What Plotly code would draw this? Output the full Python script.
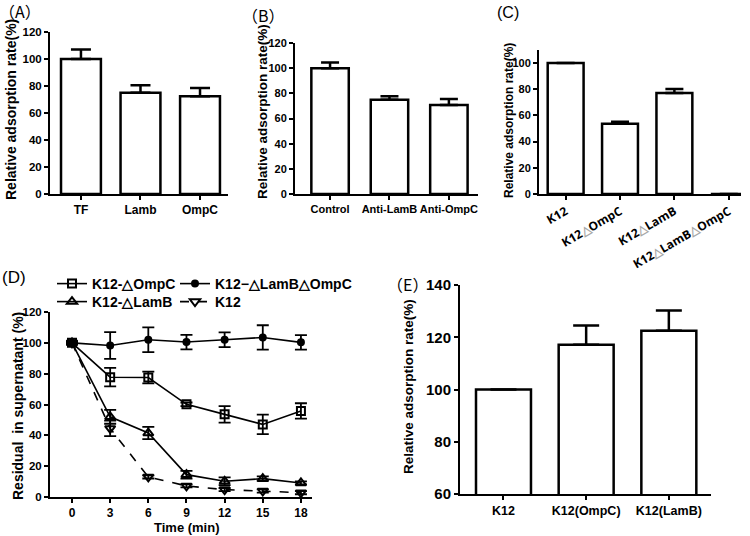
import plotly.graph_objects as go

W, H = 750, 536

# ---------------- data ----------------
# Panel A
a_cats = ["TF", "Lamb", "OmpC"]
a_vals = [100, 75, 72.5]
a_err = [7, 5.5, 6]

# Panel B
b_cats = ["Control", "Anti-LamB", "Anti-OmpC"]
b_vals = [100, 75, 70.7]
b_err = [4.5, 2.7, 4.8]

# Panel C
TRI = '<span style="color:#a8a8a8">△</span>'
c_cats = ["K12", "K12" + TRI + "OmpC", "K12" + TRI + "LamB", "K12" + TRI + "LamB" + TRI + "OmpC"]
c_vals = [100, 53.7, 77.1, 0]
c_err = [0, 1.5, 3.1, 0]

# Panel D
d_time = [0, 3, 6, 9, 12, 15, 18]
d_ompc = [100, 77.7, 77.5, 60.1, 53.6, 47.1, 55.8]
d_ompc_err = [1, 6, 3.8, 1.2, 5.4, 6.3, 5]
d_lamb_ompc = [100, 98.3, 102, 100.5, 102, 103.5, 100.3]
d_lamb_ompc_err = [0.5, 8.7, 8, 4.7, 4.8, 7.9, 4.7]
d_lamb = [100, 52, 41.5, 14.5, 10.2, 11.9, 9.1]
d_lamb_err = [1, 4.5, 4, 2.5, 2.5, 1.5, 1]
d_k12 = [100, 44.5, 13, 7.2, 4.8, 3.9, 2.8]
d_k12_err = [1, 5, 1, 1, 1, 1, 1]
d_names = ["K12-△OmpC", "K12−△LamB△OmpC", "K12-△LamB", "K12"]

# Panel E
e_cats = ["K12", "K12(OmpC)", "K12(LamB)"]
e_vals = [100, 117.1, 122.5]
e_err = [0, 7.4, 7.7]

# ---------------- helpers ----------------
FONT = "Liberation Sans, Arial, sans-serif"
CJK = "Noto Sans CJK SC, sans-serif"


def dx(a, b):
    return [a / W, b / W]


def dy(top, bottom):
    return [1 - bottom / H, 1 - top / H]


def tfont(size, family=FONT):
    return dict(family=family, size=size, color="black", weight="bold")


def axis(domain, rng, anchor, size, **kw):
    d = dict(domain=domain, range=rng, anchor=anchor, showline=True, linewidth=2,
             linecolor="black", ticks="outside", ticklen=4, tickwidth=2,
             tickcolor="black", showgrid=False, zeroline=False, automargin=False,
             tickfont=tfont(size), fixedrange=True)
    d.update(kw)
    return d


def bars(cats, vals, errs, xa, ya, width, cap):
    return go.Bar(
        x=list(range(len(cats))), y=vals, width=width, xaxis=xa, yaxis=ya,
        marker=dict(color="white", line=dict(color="black", width=2.5)),
        error_y=dict(type="data", array=errs, arrayminus=[0] * len(errs),
                     symmetric=False, color="black", thickness=2.5, width=cap),
        showlegend=False)


fig = go.Figure()

fig.add_trace(bars(a_cats, a_vals, a_err, "x", "y", 0.67, 10))
fig.add_trace(bars(b_cats, b_vals, b_err, "x2", "y2", 0.63, 9))
fig.add_trace(bars(c_cats, c_vals, c_err, "x3", "y3", 0.66, 9))
fig.add_trace(bars(e_cats, e_vals, e_err, "x5", "y5", 0.665, 13))

d_series = [
    (d_ompc, d_ompc_err, "square-open", 8, "solid", "legend", 78),
    (d_lamb_ompc, d_lamb_ompc_err, "circle", 6, "solid", "legend", None),
    (d_lamb, d_lamb_err, "triangle-up-open", 9, "solid", "legend2", 78),
    (d_k12, d_k12_err, "triangle-down-open", 9, "dash", "legend2", None),
]
for name, (vals, errs, sym, sz, dash, leg, lw) in zip(d_names, d_series):
    fig.add_trace(go.Scatter(
        x=d_time, y=vals, name=name, mode="lines+markers", xaxis="x4", yaxis="y4",
        line=dict(color="black", width=1.6, dash=dash),
        marker=dict(symbol=sym, size=sz, color="black", line=dict(color="black", width=2)),
        error_y=dict(type="data", array=errs, symmetric=True, color="black",
                     thickness=1.8, width=6),
        legend=leg, legendwidth=lw))

layout = dict(
    width=W, height=H, autosize=False,
    margin=dict(l=0, r=0, t=0, b=0, autoexpand=False),
    paper_bgcolor="white", plot_bgcolor="white",
    showlegend=True,
    font=dict(family=FONT, color="black"),
)

# Panel A axes
layout["xaxis"] = axis(dx(50, 228), [-0.52, 2.47], "y", 12,
                       tickmode="array", tickvals=list(range(len(a_cats))), ticktext=a_cats)
layout["yaxis"] = axis(dy(32, 194), [0, 120], "x", 11.5, dtick=20, tick0=0)
# Panel B axes
layout["xaxis2"] = axis(dx(295, 478), [-0.59, 2.49], "y2", 11,
                        tickmode="array", tickvals=list(range(len(b_cats))), ticktext=b_cats)
layout["yaxis2"] = axis(dy(43, 194), [0, 120], "x2", 11, dtick=20, tick0=0)
# Panel C axes
layout["xaxis3"] = axis(dx(539, 741), [-0.49, 3.225], "y3", 12,
                        tickmode="array", tickvals=list(range(len(c_cats))), ticktext=c_cats,
                        tickangle=-30, tickfont=tfont(12, "Open Sans, sans-serif"))
layout["yaxis3"] = axis(dy(50, 194), [0, 110], "x3", 11, tickmode="array",
                        tickvals=[0, 20, 40, 60, 80, 100])
# Panel D axes
layout["xaxis4"] = axis(dx(50, 312), [-1.73, 18.87], "y4", 12,
                        tickmode="array", tickvals=d_time)
layout["yaxis4"] = axis(dy(312, 497), [0, 120], "x4", 11.5, dtick=20, tick0=0)
# Panel E axes
layout["xaxis5"] = axis(dx(460, 711), [-0.526, 2.51], "y5", 12.5,
                        tickmode="array", tickvals=list(range(len(e_cats))), ticktext=e_cats)
layout["yaxis5"] = axis(dy(285, 494), [60, 140], "x5", 15, dtick=20, tick0=60)

# legends for panel D (two rows)
leg_common = dict(orientation="h", xanchor="left", yanchor="middle",
                  font=tfont(14), bgcolor="rgba(0,0,0,0)", itemwidth=30, tracegroupgap=0)
layout["legend"] = dict(leg_common, x=52 / W, y=1 - 284 / H)
layout["legend2"] = dict(leg_common, x=52 / W, y=1 - 302 / H)

fig.update_layout(**layout)


def ann(text, x, y, size, family=FONT, angle=0, xanchor="left", bold=True):
    fig.add_annotation(text=text, x=x / W, y=1 - y / H, xref="paper", yref="paper",
                       showarrow=False, textangle=angle, xanchor=xanchor, yanchor="middle",
                       font=dict(family=family, size=size, color="black",
                                 weight="bold" if bold else "normal"))


# panel labels
ann("（A）", -3, 11, 16, CJK, bold=False)
ann("（B）", 240, 15, 16, CJK, bold=False)
ann("(C)", 495, 13, 16, bold=False)
ann("(D)", 0, 277, 17, bold=False)
ann("（E）", 385, 284, 16, CJK, bold=False)

# axis titles
ann("Relative adsorption rate(%)", 11, 110, 14, angle=-90, xanchor="center")
ann("Relative adsorption rate(%)", 263, 112, 13.5, angle=-90, xanchor="center")
ann("Relative adsorption rate(%)", 509, 121, 12, angle=-90, xanchor="center")
ann("Residual  in supernatant (%)", 18, 406, 14, angle=-90, xanchor="center")
ann("Time (min)", 187, 527, 13, xanchor="center")
ann("Relative adsorption rate(%)", 408, 387, 13.5, angle=-90, xanchor="center")

fig.write_html("out.html", config={"displayModeBar": False},
               post_script="document.body.style.margin='0';document.body.style.overflow='hidden';")
